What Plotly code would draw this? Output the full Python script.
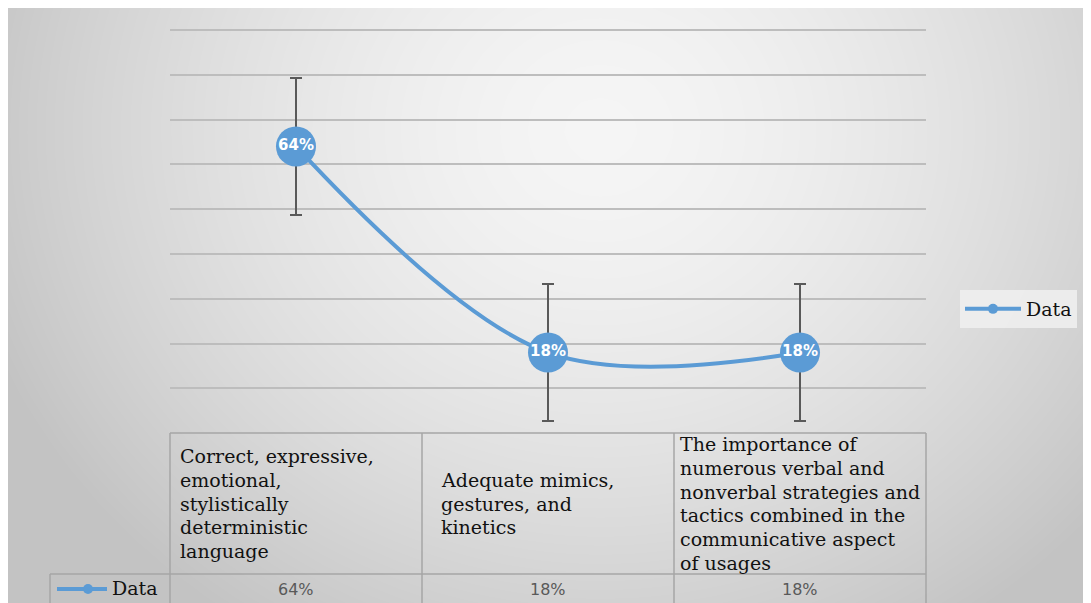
import numpy as np
import plotly.graph_objects as go

# ---- data ----
categories = [
    "Correct, expressive,<br>emotional,<br>stylistically<br>deterministic<br>language",
    "Adequate mimics,<br>gestures, and<br>kinetics",
    "The importance of<br>numerous verbal and<br>nonverbal strategies and<br>tactics combined in the<br>communicative aspect<br>of usages",
]
values = [64, 18, 18]
errors = [15.3, 15.3, 15.3]
series_name = "Data"
y_ticks = [0, 10, 20, 30, 40, 50, 60, 70, 80, 90]

W, H = 1091, 603
OFF = 8  # page body margin: screen px = figure px + OFF
BLUE = "#5b9bd5"
SERIF = "DejaVu Serif"

def px(x):
    return (x - OFF) / W

def py(y):
    return 1 - (y - OFF) / H

fig = go.Figure()

# ---- background gradient (screen-pixel helper axes) ----
gx = np.linspace(OFF, OFF + W, 60)
gy = np.linspace(OFF, OFF + H, 40)
X, Y = np.meshgrid(gx, gy)
d = np.sqrt(((X - 600) / 620) ** 2 + ((Y - 130) / 560) ** 2)
Z = 245 - 46 * np.clip(d, 0, 1.2) ** 1.6
fig.add_trace(go.Heatmap(
    x=gx, y=gy, z=Z, xaxis="x", yaxis="y",
    colorscale=[[0, "rgb(195,195,195)"], [1, "rgb(246,246,246)"]],
    zmin=195, zmax=246, zsmooth="best", showscale=False, hoverinfo="skip",
))

# ---- main series ----
xs = list(range(len(values)))
fig.add_trace(go.Scatter(
    x=xs, y=values, xaxis="x2", yaxis="y2",
    mode="lines+markers+text",
    line=dict(color=BLUE, width=4, shape="spline", smoothing=1),
    marker=dict(size=40, color=BLUE),
    text=[f"{v}%" for v in values],
    textposition="middle center",
    textfont=dict(family="DejaVu Sans", size=15, color="white", weight="bold"),
    error_y=dict(type="data", array=errors, color="#595959", thickness=2, width=6),
    showlegend=False, hoverinfo="skip", cliponaxis=False,
))
# legend entry
fig.add_trace(go.Scatter(
    x=[None], y=[None], xaxis="x2", yaxis="y2", name=series_name,
    mode="lines+markers", line=dict(color=BLUE, width=4),
    marker=dict(size=10, color=BLUE), showlegend=True,
))

shapes = []
annotations = []
grid_col = "#a6a6a6"

def hline(y, x0, x1):
    shapes.append(dict(type="line", xref="x", yref="y", x0=x0, x1=x1, y0=y, y1=y,
                       line=dict(color=grid_col, width=1.5)))

def vline(x, y0, y1):
    shapes.append(dict(type="line", xref="x", yref="y", x0=x, x1=x, y0=y0, y1=y1,
                       line=dict(color=grid_col, width=1.5)))

col_edges = [170, 422, 674, 926]
hline(433, 170, 926)
hline(574, 50, 926)
for cx in col_edges:
    vline(cx, 433, OFF + H)
vline(50, 574, OFF + H)

# table text
text_x = [178, 439, 678]
line_h = 23.8
for i, lab in enumerate(categories):
    lines = lab.split("<br>")
    n = len(lines)
    for j, ln in enumerate(lines):
        yy = 503.5 + (j - (n - 1) / 2) * line_h
        annotations.append(dict(xref="x", yref="y", x=text_x[i], y=yy, text=ln,
                                showarrow=False, xanchor="left", yanchor="middle",
                                font=dict(family=SERIF, size=19, color="#111111")))
    cxm = (col_edges[i] + col_edges[i + 1]) / 2
    annotations.append(dict(xref="x", yref="y", x=cxm, y=589, text=f"{values[i]}%",
                            showarrow=False, xanchor="center", yanchor="middle",
                            font=dict(family="DejaVu Sans", size=16, color="#595959")))

# row legend key
shapes.append(dict(type="line", xref="x", yref="y", x0=57, x1=107, y0=589, y1=589,
                   line=dict(color=BLUE, width=4)))
shapes.append(dict(type="circle", xref="x", yref="y", x0=83, x1=93, y0=584, y1=594,
                   fillcolor=BLUE, line=dict(color=BLUE, width=0)))
annotations.append(dict(xref="x", yref="y", x=110, y=588, text=series_name,
                        showarrow=False, xanchor="left", yanchor="middle",
                        font=dict(family=SERIF, size=19, color="#111111")))

ymax = 91.5
y_bottom_px = 433.2
unit = 4.48
y_top_px = y_bottom_px - ymax * unit

fig.update_layout(
    width=W, height=H,
    margin=dict(l=0, r=0, t=0, b=0),
    paper_bgcolor="white",
    plot_bgcolor="rgba(0,0,0,0)",
    xaxis=dict(domain=[0, 1], range=[OFF, OFF + W], visible=False, fixedrange=True),
    yaxis=dict(domain=[0, 1], range=[OFF + H, OFF], visible=False, fixedrange=True),
    xaxis2=dict(domain=[px(170), px(926)], range=[-0.5, len(values) - 0.5],
                showticklabels=False, showgrid=False, zeroline=False, anchor="y2"),
    yaxis2=dict(domain=[py(y_bottom_px), py(y_top_px)], range=[y_ticks[0], ymax],
                tickvals=y_ticks, showticklabels=False, showgrid=True,
                gridcolor="#bdbdbd", gridwidth=1.5, zeroline=False, anchor="x2"),
    legend=dict(x=px(960), y=py(309), xanchor="left", yanchor="middle",
                bgcolor="rgba(238,238,238,0.9)", itemwidth=56,
                font=dict(family=SERIF, size=19, color="#111111")),
    shapes=shapes,
    annotations=annotations,
)

fig.write_html("out.html")
